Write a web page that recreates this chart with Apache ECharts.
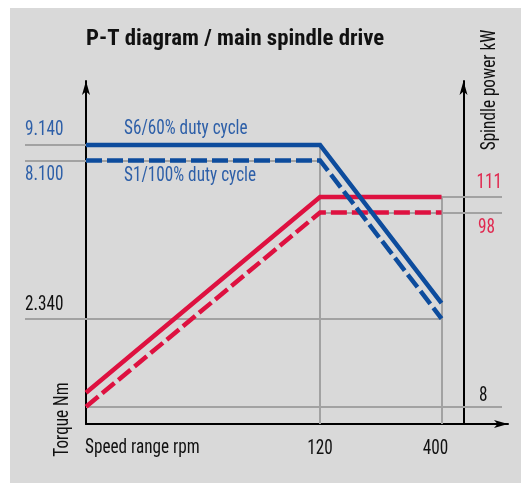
<!DOCTYPE html>
<html><head><meta charset="utf-8">
<script src="https://cdn.jsdelivr.net/npm/echarts@6/dist/echarts.min.js"></script>
<style>html,body{margin:0;padding:0;background:#fff}#c{width:521px;height:484px}</style>
</head><body><div id="c"></div>
<script>
const FONT = "'Roboto Condensed', 'DejaVu Sans Condensed', sans-serif";

// ---- data ----
const speedRpm = [11.8, 120, 400];
const torqueS6 = [9140, 9140, 2640];
const torqueS1 = [8100, 8100, 2340];
const powerS6 = [15.3, 111, 111];
const powerS1 = [8, 98, 98];

const speedTicks = [120, 400];
const speedTickLabels = ['120', '400'];
const torqueTicks = [9140, 8100, 2340];
const torqueTickLabels = ['9.140', '8.100', '2.340'];
const powerTicks = [111, 98, 8];
const powerTickLabels = ['111', '98', '8'];
const seriesNames = ['S6/60% duty cycle', 'S1/100% duty cycle'];

// ---- axis ranges (schematic scales) ----
const SPEED_RANGE = [11.8, 773];
const TORQUE_RANGE = [1022, 15108];
const POWER_RANGE_S6 = [0, 167.7];
const POWER_RANGE_S1 = [0, 158.9];

const BLUE = '#0d4c9d', BLUE_TXT = '#2d5fa8', RED = '#de1140', RED_TXT = '#e0284f';
const GRAY = '#a2a2a2', BG = '#d9d9d9', BLACK = '#111';
const FS = 20, SX = 0.86;

const zip = (xs, ys) => xs.map((x, i) => [x, ys[i]]);

const markBase = {
  silent: true, symbol: 'none', z: 1, animation: false, label: { show: false },
  lineStyle: { type: 'solid', color: GRAY, width: 2 },
  emphasis: { disabled: true }
};
const arrowLine = { show: true, onZero: false, lineStyle: { color: '#000', width: 2 }, symbol: ['none', 'arrow'], symbolSize: [6, 14] };
const noDecor = { axisTick: { show: false }, axisLabel: { show: false }, splitLine: { show: false } };

const option = {
  backgroundColor: '#fff',
  animation: false,
  grid: { left: 86, top: 81, right: 13, bottom: 60 },
  xAxis: Object.assign({ type: 'log', min: SPEED_RANGE[0], max: SPEED_RANGE[1], axisLine: arrowLine }, noDecor),
  yAxis: [
    Object.assign({ type: 'log', min: TORQUE_RANGE[0], max: TORQUE_RANGE[1], position: 'left', axisLine: arrowLine }, noDecor),
    Object.assign({ type: 'value', min: POWER_RANGE_S6[0], max: POWER_RANGE_S6[1], position: 'right', offset: -44.5, axisLine: arrowLine }, noDecor),
    Object.assign({ type: 'value', min: POWER_RANGE_S1[0], max: POWER_RANGE_S1[1], position: 'right', offset: -44.5, axisLine: { show: false } }, noDecor)
  ],
  series: [
    { name: 'Power ' + seriesNames[0], type: 'line', xAxisIndex: 0, yAxisIndex: 1, z: 2, clip: false,
      data: zip(speedRpm, powerS6), symbol: 'none',
      lineStyle: { color: RED, width: 4.5, join: 'miter', cap: 'butt' },
      markLine: Object.assign({}, markBase, { data: [
        [{ xAxis: speedTicks[0], yAxis: powerTicks[0] }, { x: 502, yAxis: powerTicks[0] }],
        [{ xAxis: speedTicks[1], yAxis: 0 }, { xAxis: speedTicks[1], yAxis: powerTicks[0] }]
      ] }) },
    { name: 'Power ' + seriesNames[1], type: 'line', xAxisIndex: 0, yAxisIndex: 2, z: 2, clip: false,
      data: zip(speedRpm, powerS1), symbol: 'none',
      lineStyle: { color: RED, width: 4.5, type: [16, 5], join: 'miter', cap: 'butt' },
      markLine: Object.assign({}, markBase, { data: [
        [{ xAxis: speedTicks[0], yAxis: powerTicks[1] }, { x: 502, yAxis: powerTicks[1] }],
        [{ xAxis: SPEED_RANGE[0], yAxis: powerTicks[2] }, { x: 502, yAxis: powerTicks[2] }]
      ] }) },
    { name: 'Torque ' + seriesNames[0], type: 'line', xAxisIndex: 0, yAxisIndex: 0, z: 3, clip: false,
      data: zip(speedRpm, torqueS6), symbol: 'none',
      lineStyle: { color: BLUE, width: 4.5, join: 'miter', cap: 'butt' },
      markLine: Object.assign({}, markBase, { data: [
        [{ x: 25, yAxis: torqueTicks[0] }, { xAxis: speedTicks[0], yAxis: torqueTicks[0] }],
        [{ x: 25, yAxis: torqueTicks[1] }, { xAxis: speedTicks[0], yAxis: torqueTicks[1] }],
        [{ x: 25, yAxis: torqueTicks[2] }, { xAxis: speedTicks[1], yAxis: torqueTicks[2] }],
        [{ xAxis: speedTicks[0], yAxis: TORQUE_RANGE[0] }, { xAxis: speedTicks[0], yAxis: torqueTicks[0] }]
      ] }) },
    { name: 'Torque ' + seriesNames[1], type: 'line', xAxisIndex: 0, yAxisIndex: 0, z: 3, clip: false,
      data: zip(speedRpm, torqueS1), symbol: 'none',
      lineStyle: { color: BLUE, width: 4.5, type: [16, 5], join: 'miter', cap: 'butt' } }
  ]
};

const chart = echarts.init(document.getElementById('c'), null, { renderer: 'canvas' });
chart.setOption(option);

// ---- text placed through the chart's own scales ----
const toPx = (yIdx, x, y) => chart.convertToPixel({ xAxisIndex: 0, yAxisIndex: yIdx }, [x, y]);
function label(text, x, y, color, align, extra) {
  return Object.assign({
    type: 'text', z: 10, silent: true, x: x, y: y, scaleX: SX,
    style: { text: text, fill: color, fontSize: FS, fontFamily: FONT, align: align, verticalAlign: 'middle' }
  }, extra || {});
}
const yT = (v) => toPx(0, speedRpm[0], v)[1];
const yP6 = (v) => toPx(1, speedRpm[0], v)[1];
const yP1 = (v) => toPx(2, speedRpm[0], v)[1];
const xS = (v) => toPx(0, v, TORQUE_RANGE[0])[0];
const xAxisY = toPx(0, speedRpm[0], TORQUE_RANGE[0])[1];
const x0 = xS(speedRpm[0]);

const graphics = [
  { type: 'rect', z: -10, silent: true, shape: { x: 10, y: 8, width: 511, height: 475 }, style: { fill: BG } },
  { type: 'text', z: 10, silent: true, x: x0, y: 39,
    style: { text: 'P-T diagram / main spindle drive', fill: BLACK, fontSize: 22.8, fontWeight: 'bold', fontFamily: FONT, align: 'left', verticalAlign: 'middle' } },
  // torque tick labels (left)
  label(torqueTickLabels[0], 25, yT(torqueTicks[0]) - 14.5, BLUE_TXT, 'left'),
  label(torqueTickLabels[1], 25, yT(torqueTicks[1]) + 15, BLUE_TXT, 'left'),
  label(torqueTickLabels[2], 25, yT(torqueTicks[2]) - 13.5, BLACK, 'left'),
  // power tick labels (right)
  label(powerTickLabels[0], 502, yP6(powerTicks[0]) - 14, RED_TXT, 'right'),
  label(powerTickLabels[1], 495, yP1(powerTicks[1]) + 16, RED_TXT, 'right'),
  label(powerTickLabels[2], 487.5, yP1(powerTicks[2]) - 11, BLACK, 'right'),
  // speed tick labels
  label(speedTickLabels[0], xS(speedTicks[0]), xAxisY + 25, BLACK, 'center'),
  label(speedTickLabels[1], xS(speedTicks[1]) - 6, xAxisY + 25, BLACK, 'center'),
  // series names
  label(seriesNames[0], x0 + 38, yT(torqueS6[0]) - 15.5, BLUE_TXT, 'left'),
  label(seriesNames[1], x0 + 38, yT(torqueS1[0]) + 15.5, BLUE_TXT, 'left'),
  // axis names
  label('Speed range rpm', x0 - 1, xAxisY + 24, BLACK, 'left'),
  label('Torque Nm', 63, 419.5, BLACK, 'center', { rotation: Math.PI / 2 }),
  label('Spindle power kW', 490, 90, BLACK, 'center', { rotation: Math.PI / 2 })
];
chart.setOption({ graphic: graphics });
</script>
</body></html>
